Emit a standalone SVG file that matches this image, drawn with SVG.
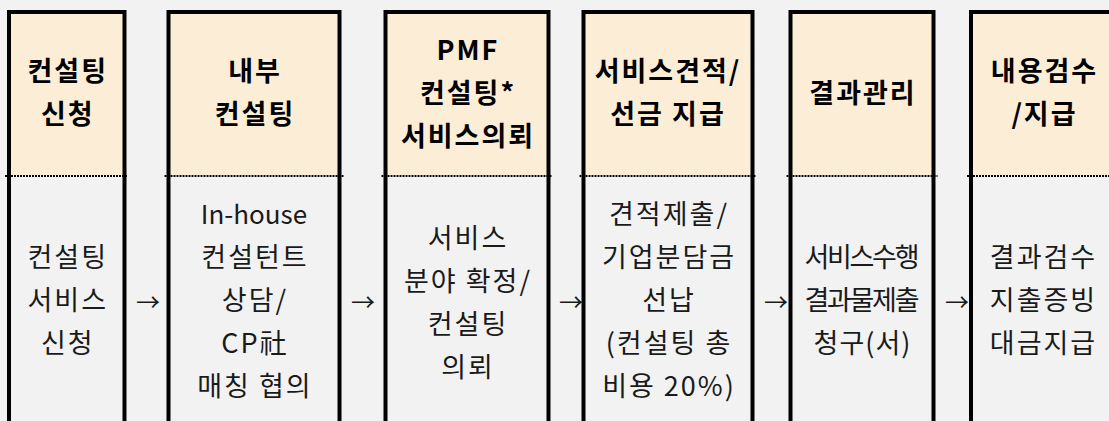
<svg xmlns="http://www.w3.org/2000/svg" width="1109" height="421" viewBox="0 0 1109 421">
<style>
.bg{fill:#f2f2f2}
.hd{fill:#fbedd6}
.bd{fill:none;stroke:#000;stroke-width:4;stroke-linecap:square}
.dot{stroke:#000;stroke-width:2;stroke-dasharray:2 1}
.t{font-family:'Noto Sans CJK KR','Noto Sans',sans-serif;font-size:27px;letter-spacing:2px;text-anchor:middle;fill:#1a1a1a}
.h{font-weight:bold;fill:#000}
.lat{letter-spacing:0px;font-size:26px}
.c{letter-spacing:0px}
.ar{font-family:'Noto Sans CJK KR',sans-serif;font-size:24px;fill:#1a1a1a}
</style>
<rect class="bg" x="0" y="0" width="1109" height="421"/>

<g id="col1">
<rect class="hd" x="9" y="12" width="115.5" height="164"/>
<path class="bd" d="M9,423 V12 H124.5 V423"/>
<line class="dot" x1="5" y1="176" x2="128" y2="176"/>
<text class="t h"><tspan x="67.75" y="81">컨설팅</tspan><tspan x="67.75" y="124">신청</tspan></text>
<text class="t"><tspan x="67.75" y="267">컨설팅</tspan><tspan x="67.75" y="310">서비스</tspan><tspan x="67.75" y="353">신청</tspan></text>
</g>

<g id="col2">
<rect class="hd" x="168.5" y="12" width="171" height="164"/>
<path class="bd" d="M168.5,423 V12 H339.5 V423"/>
<line class="dot" x1="164.5" y1="176" x2="343.5" y2="176"/>
<text class="t h"><tspan x="255" y="81">내부</tspan><tspan x="255" y="124">컨설팅</tspan></text>
<text class="t"><tspan class="lat" x="254" y="224">In-house</tspan><tspan x="255" y="267">컨설턴트</tspan><tspan x="255" y="310">상담/</tspan><tspan x="255" y="353">CP社</tspan><tspan x="255" y="396">매칭 협의</tspan></text>
</g>

<g id="col3">
<rect class="hd" x="385.5" y="12" width="163" height="164"/>
<path class="bd" d="M385.5,423 V12 H548.5 V423"/>
<line class="dot" x1="381.5" y1="176" x2="552.5" y2="176"/>
<text class="t h"><tspan x="468" y="60">PMF</tspan><tspan x="468" y="103">컨설팅*</tspan><tspan x="468" y="146">서비스의뢰</tspan></text>
<text class="t"><tspan x="468" y="247.5">서비스</tspan><tspan x="468" y="290.5">분야 확정/</tspan><tspan x="468" y="333.5">컨설팅</tspan><tspan x="468" y="376.5">의뢰</tspan></text>
</g>

<g id="col4">
<rect class="hd" x="583.5" y="12" width="169" height="164"/>
<path class="bd" d="M583.5,423 V12 H752.5 V423"/>
<line class="dot" x1="579.5" y1="176" x2="756.5" y2="176"/>
<text class="t h"><tspan x="668" y="81">서비스견적/</tspan><tspan x="668" y="124">선금 지급</tspan></text>
<text class="t"><tspan x="669" y="224">견적제출/</tspan><tspan x="669" y="267">기업분담금</tspan><tspan x="669" y="310">선납</tspan><tspan x="669" y="353">(컨설팅 총</tspan><tspan x="669" y="396">비용 20%)</tspan></text>
</g>

<g id="col5">
<rect class="hd" x="790.5" y="12" width="143" height="164"/>
<path class="bd" d="M790.5,423 V12 H933.5 V423"/>
<line class="dot" x1="786.5" y1="176" x2="937.5" y2="176"/>
<text class="t h" x="863" y="103">결과관리</text>
<text class="t c" x="862" y="267" textLength="115" lengthAdjust="spacing">서비스수행</text>
<text class="t c" x="862" y="310" textLength="115" lengthAdjust="spacing">결과물제출</text>
<text class="t c" x="862" y="353" textLength="97" lengthAdjust="spacing">청구(서)</text>
</g>

<g id="col6">
<rect class="hd" x="971" y="12" width="145" height="164"/>
<path class="bd" d="M971,423 V12 H1116 V423"/>
<line class="dot" x1="967" y1="176" x2="1112" y2="176"/>
<text class="t h"><tspan x="1044.5" y="81">내용검수</tspan><tspan x="1044.5" y="124">/지급</tspan></text>
<text class="t"><tspan x="1043.5" y="267">결과검수</tspan><tspan x="1043.5" y="310">지출증빙</tspan><tspan x="1043.5" y="353">대금지급</tspan></text>
</g>

<g id="connectors">
<text class="ar" x="136" y="311">→</text>
<text class="ar" x="351" y="311">→</text>
<text class="ar" x="559" y="311">→</text>
<text class="ar" x="764" y="311">→</text>
<text class="ar" x="945" y="311">→</text>
</g>
</svg>
